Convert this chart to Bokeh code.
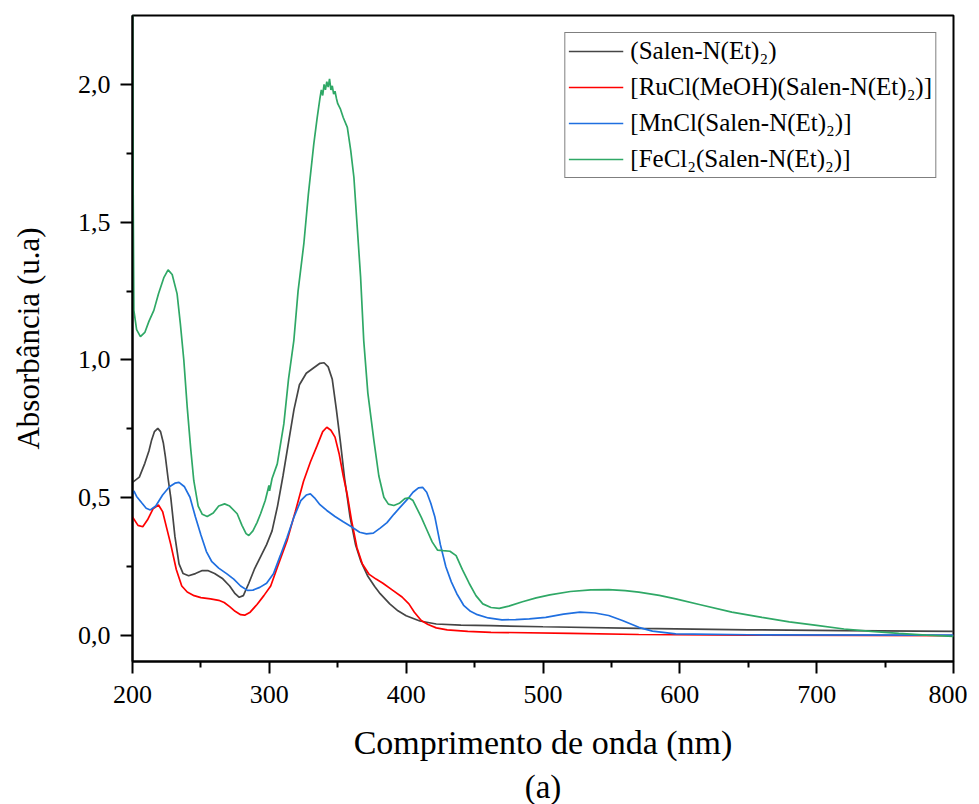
from bokeh.plotting import figure
from bokeh.models import FixedTicker, Range1d, Title, Legend, LegendItem
from bokeh.embed import file_html
from bokeh.resources import INLINE

# ---------------- data ----------------
salen_x = [200, 205, 209, 212, 214, 216, 218.5, 220.5, 222.5, 224, 226, 228, 231, 234, 237, 241, 246, 251, 255, 260,
           266, 271, 275, 278, 281, 285, 289, 294, 298, 302, 306, 310, 314, 318, 322, 327, 332, 337, 340, 343, 346,
           349, 352, 355, 359, 363, 367, 372, 377, 381, 388, 394, 400, 410, 422, 440, 462, 500, 570, 650, 720, 800]
salen_y = [0.556, 0.575, 0.625, 0.67, 0.71, 0.74, 0.752, 0.74, 0.70, 0.65, 0.57, 0.50, 0.36, 0.26, 0.225, 0.217,
           0.225, 0.236, 0.236, 0.225, 0.206, 0.18, 0.152, 0.139, 0.145, 0.19, 0.24, 0.29, 0.33, 0.38, 0.47, 0.58,
           0.70, 0.82, 0.91, 0.952, 0.97, 0.988, 0.99, 0.975, 0.93, 0.82, 0.70, 0.57, 0.43, 0.33, 0.268, 0.215, 0.178,
           0.152, 0.115, 0.09, 0.072, 0.053, 0.042, 0.038, 0.036, 0.032, 0.026, 0.021, 0.018, 0.015]

ru_x = [200, 204, 207.5, 211, 215, 219, 222, 225, 228, 232, 236, 240, 245, 250, 257, 263, 267, 271, 275, 279, 282,
        286, 291, 296, 301, 306, 313, 319, 325, 330, 335, 339, 342, 345, 348, 351, 354, 357, 360, 364, 368, 373, 378,
        383, 390, 397, 402, 406, 411, 416, 422, 430, 445, 462, 520, 570, 650, 800]
ru_y = [0.43, 0.40, 0.395, 0.42, 0.46, 0.474, 0.45, 0.39, 0.33, 0.24, 0.18, 0.158, 0.145, 0.138, 0.133, 0.128, 0.12,
        0.105, 0.088, 0.076, 0.074, 0.085, 0.113, 0.145, 0.18, 0.25, 0.345, 0.45, 0.56, 0.63, 0.69, 0.74, 0.756,
        0.745, 0.72, 0.66, 0.58, 0.51, 0.42, 0.32, 0.26, 0.222, 0.205, 0.19, 0.165, 0.14, 0.115, 0.085, 0.055, 0.04,
        0.028, 0.021, 0.015, 0.012, 0.008, 0.004, 0.002, 0.0]

mn_x = [200, 201, 203, 207, 210, 213, 217, 222, 227, 231, 234, 238, 242, 246, 250, 254, 258, 263, 269, 274, 279, 284,
        288, 293, 298, 303, 308, 313, 318, 323, 327, 330, 333, 337, 342, 348, 354, 360, 366, 371, 376, 381, 386, 391,
        396, 401, 405, 409, 412, 415, 418, 421, 425, 429, 433, 437, 442, 447, 452, 460, 470, 480, 490, 502, 515, 527,
        538, 548, 558, 570, 580, 597, 650, 800]
mn_y = [0.51, 0.525, 0.505, 0.48, 0.462, 0.456, 0.47, 0.51, 0.54, 0.553, 0.556, 0.54, 0.502, 0.43, 0.365, 0.305,
        0.268, 0.245, 0.224, 0.205, 0.18, 0.164, 0.165, 0.175, 0.19, 0.224, 0.29, 0.357, 0.43, 0.49, 0.51, 0.514,
        0.50, 0.475, 0.454, 0.432, 0.413, 0.395, 0.375, 0.369, 0.372, 0.39, 0.41, 0.44, 0.468, 0.495, 0.52, 0.536,
        0.538, 0.52, 0.48, 0.43, 0.33, 0.25, 0.195, 0.152, 0.11, 0.088, 0.076, 0.064, 0.057, 0.058, 0.061, 0.066,
        0.078, 0.085, 0.082, 0.073, 0.055, 0.03, 0.016, 0.006, 0.003, 0.002]

fe_x = [200, 200.5, 201, 203, 205.8, 209, 212, 215.6, 219, 223, 226, 229, 232.6, 235, 237.5, 240, 242.5, 244.8, 248,
        251, 254.6, 259, 263, 267.3, 271, 276.5, 280, 283, 285, 288, 291, 293.6, 297, 299, 299.7, 300.2, 302, 305.8,
        310.6, 314, 317.9, 321, 325.2, 328.5, 332.5, 335, 337, 338, 339, 340, 341, 342, 343, 344, 345, 346, 347, 348,
        349, 350, 352, 354, 357, 359.5, 361.8, 364, 366.7, 369, 372, 376.4, 380, 383.7, 387, 391, 395, 399, 402, 405,
        408, 411, 415, 419, 423, 427, 432, 436.5, 441, 446, 451, 456, 462, 468, 475, 485, 495, 505, 520, 535, 548,
        560, 570, 585, 597, 615, 638, 660, 680, 700, 720, 740, 760, 780, 800]
fe_y = [2.40, 1.6, 1.18, 1.11, 1.085, 1.1, 1.14, 1.18, 1.24, 1.30, 1.327, 1.31, 1.24, 1.13, 1.0, 0.828, 0.68, 0.562,
        0.47, 0.44, 0.432, 0.445, 0.47, 0.478, 0.47, 0.442, 0.40, 0.37, 0.363, 0.38, 0.41, 0.442, 0.49, 0.53, 0.545,
        0.525, 0.57, 0.623, 0.768, 0.93, 1.07, 1.25, 1.421, 1.6, 1.784, 1.88, 1.95, 1.98, 1.96, 2.0, 1.98, 2.01, 1.99,
        2.02, 1.98, 1.995, 1.965, 1.975, 1.95, 1.93, 1.91, 1.88, 1.844, 1.76, 1.663, 1.50, 1.30, 1.07, 0.88, 0.708,
        0.58, 0.502, 0.477, 0.472, 0.48, 0.497, 0.5, 0.49, 0.46, 0.43, 0.385, 0.34, 0.31, 0.308, 0.306, 0.29, 0.24,
        0.19, 0.145, 0.115, 0.102, 0.099, 0.107, 0.123, 0.137, 0.148, 0.16, 0.166, 0.167, 0.163, 0.158, 0.146, 0.133,
        0.112, 0.085, 0.066, 0.05, 0.037, 0.024, 0.015, 0.008, 0.002, -0.003]

series_labels = ["(Salen-N(Et)\u2082)",
                 "[RuCl(MeOH)(Salen-N(Et)\u2082)]",
                 "[MnCl(Salen-N(Et)\u2082)]",
                 "[FeCl\u2082(Salen-N(Et)\u2082)]"]
series_colors = ["#454545", "#ff0000", "#1f6fe0", "#2fa866"]

x_ticks = [200, 300, 400, 500, 600, 700, 800]
x_minor = [250, 350, 450, 550, 650, 750]
y_ticks = [0.0, 0.5, 1.0, 1.5, 2.0]
y_tick_labels = ["0,0", "0,5", "1,0", "1,5", "2,0"]
y_minor = [0.25, 0.75, 1.25, 1.75]

FONT = "Liberation Serif"

p = figure(frame_width=821, frame_height=646, output_backend="svg", toolbar_location=None,
           x_range=Range1d(200, 800), y_range=Range1d(-0.094, 2.25),
           min_border_left=132, min_border_right=14, min_border_top=15, min_border_bottom=0)

p.grid.visible = False
p.outline_line_color = "black"
p.outline_line_width = 2
p.background_fill_color = "white"

renderers = []
for xs, ys, c in zip([salen_x, ru_x, mn_x, fe_x], [salen_y, ru_y, mn_y, fe_y], series_colors):
    renderers.append(p.line(xs, ys, line_color=c, line_width=1.7))

p.xaxis.ticker = FixedTicker(ticks=x_ticks, minor_ticks=x_minor)
p.yaxis.ticker = FixedTicker(ticks=y_ticks, minor_ticks=y_minor)
p.yaxis.major_label_overrides = {t: l for t, l in zip(y_ticks, y_tick_labels)}

for ax in (p.xaxis[0], p.yaxis[0]):
    ax.axis_line_width = 2
    ax.axis_line_color = "black"
    ax.major_tick_line_width = 2
    ax.minor_tick_line_width = 2
    ax.major_tick_in = 0
    ax.minor_tick_in = 0
    ax.major_tick_out = 12
    ax.minor_tick_out = 6
    ax.major_label_text_font = FONT
    ax.major_label_text_font_size = "26px"
    ax.major_label_text_color = "black"
    ax.axis_label_text_font = FONT
    ax.axis_label_text_font_style = "normal"
    ax.axis_label_text_color = "black"

p.xaxis.axis_label = "Comprimento de onda (nm)"
p.yaxis.axis_label = "Absorbância (u.a)"
p.xaxis.axis_label_text_font_size = "34px"
p.yaxis.axis_label_text_font_size = "31px"
p.xaxis.major_label_standoff = 12
p.xaxis.axis_label_standoff = 18
p.yaxis.major_label_standoff = 10
p.yaxis.axis_label_standoff = 29

sub = Title(text="(a)", align="center", text_font=FONT, text_font_size="33px",
            text_font_style="normal", text_color="black", standoff=6)
p.add_layout(sub, "below")

legend = Legend(items=[LegendItem(label=l, renderers=[r]) for l, r in zip(series_labels, renderers)],
                location="top_right")
legend.label_text_font = FONT
legend.label_text_font_size = "25px"
legend.label_text_color = "black"
legend.border_line_color = "black"
legend.border_line_width = 1
legend.background_fill_color = "white"
legend.background_fill_alpha = 1
legend.margin = 17
legend.padding = 3
legend.spacing = 6
legend.label_height = 30
legend.glyph_height = 30
legend.glyph_width = 55
legend.label_standoff = 7
p.add_layout(legend)

open("out.html", "w").write(file_html(p, INLINE))
